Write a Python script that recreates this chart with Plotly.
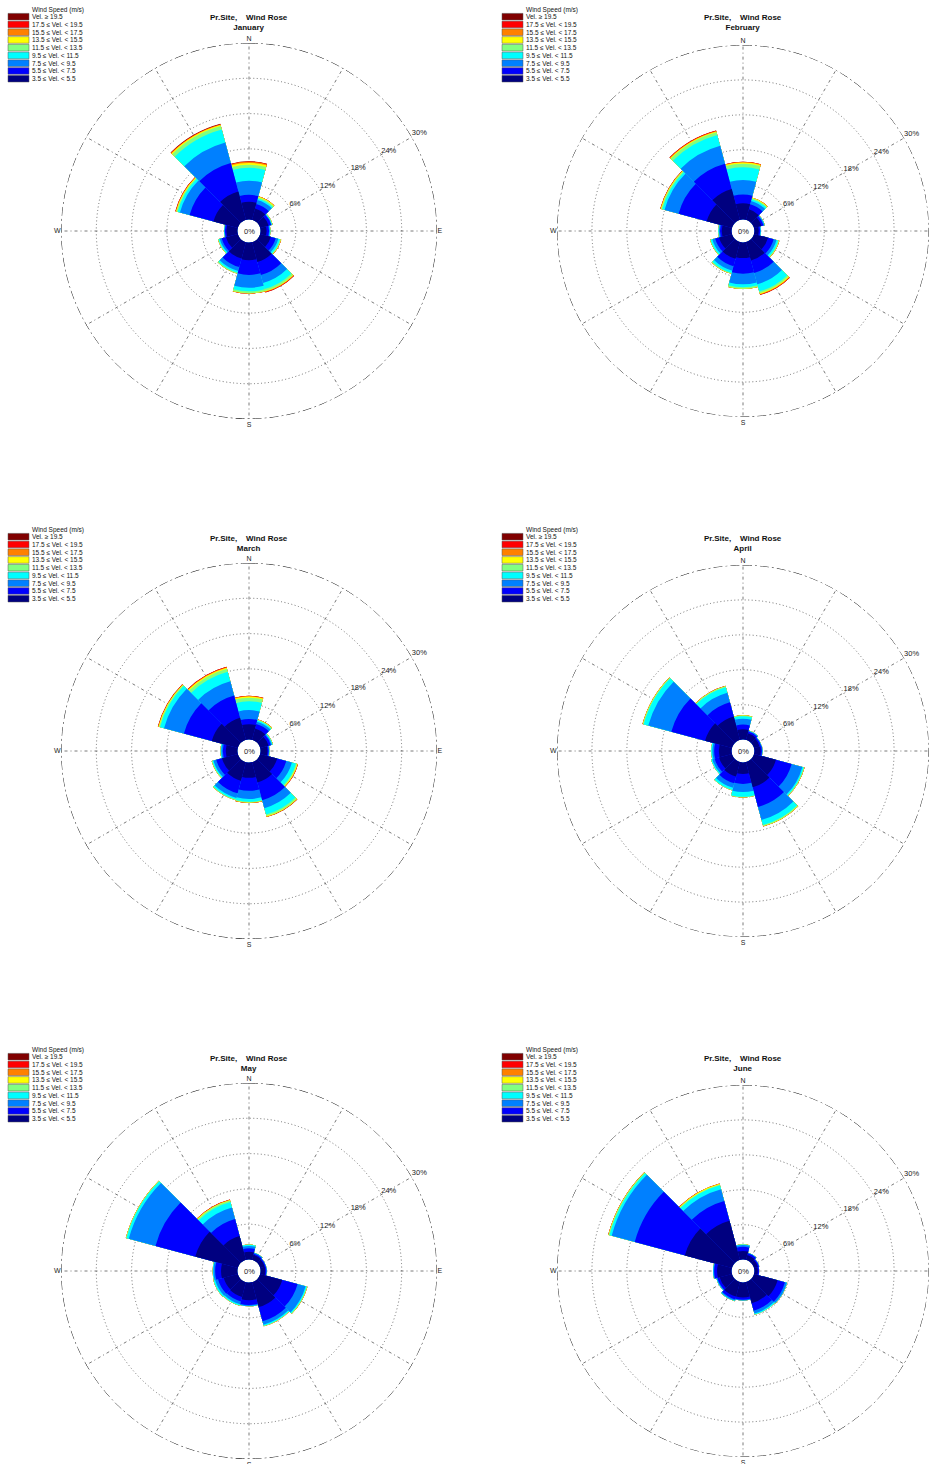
import plotly.graph_objects as go

W, H = 929, 1464

# ---------------- data ----------------
# Direction sectors (degrees, clockwise from North)
directions = [0, 30, 60, 90, 120, 150, 180, 210, 240, 270, 300, 330]
months = ["January", "February", "March", "April", "May", "June"]
cardinal_text = ["N", "", "", "E", "", "", "S", "", "", "W", "", ""]

# Speed classes, from lowest to highest
class_labels = ["3.5 \u2264 Vel. < 5.5", "5.5 \u2264 Vel. < 7.5", "7.5 \u2264 Vel. < 9.5",
                "9.5 \u2264 Vel. < 11.5", "11.5 \u2264 Vel. < 13.5", "13.5 \u2264 Vel. < 15.5",
                "15.5 \u2264 Vel. < 17.5", "17.5 \u2264 Vel. < 19.5", "Vel. \u2265 19.5"]
class_colors = ["#000080", "#0000FF", "#0080FF", "#00FFFF", "#80FF80",
                "#FFFF00", "#FF8000", "#FF0000", "#800000"]
radial_ticks = [6, 12, 18, 24, 30]
radial_text = ["6%", "12%", "18%", "24%", "30%"]
RADIAL_LABEL_BEARING = 60

# Cumulative frequency (%) per direction, up to and including each speed class
jan = [
    [3.0, 2.0, 1.5, 1.05, 1.9, 3.5, 3.0, 2.9, 2.1, 1.9, 4.3, 5.0],
    [4.2, 2.8, 1.95, 1.45, 2.75, 5.8, 5.5, 4.4, 2.85, 2.15, 8.5, 10.0],
    [6.6, 3.5, 2.05, 1.6, 3.2, 7.2, 7.7, 5.1, 3.2, 2.25, 10.2, 13.6],
    [8.8, 3.75, 2.15, 1.7, 3.5, 8.25, 8.3, 5.4, 3.4, 2.3, 10.6, 15.9],
    [9.3, 4.0, 2.2, 1.72, 3.65, 8.6, 8.6, 5.55, 3.5, 2.32, 10.8, 16.5],
    [9.6, 4.1, 2.22, 1.72, 3.7, 8.7, 8.65, 5.57, 3.52, 2.32, 10.9, 16.7],
    [9.8, 4.15, 2.22, 1.72, 3.72, 8.8, 8.67, 5.57, 3.52, 2.32, 10.95, 16.8],
    [9.85, 4.16, 2.22, 1.72, 3.72, 8.85, 8.67, 5.57, 3.52, 2.32, 11.0, 16.85],
    [9.9, 4.16, 2.22, 1.72, 3.72, 8.87, 8.67, 5.57, 3.52, 2.32, 11.02, 16.9],
]
feb = [
    [2.8, 1.9, 1.35, 0.75, 2.5, 3.3, 2.7, 3.0, 2.3, 1.7, 4.5, 5.5],
    [4.3, 2.8, 1.7, 1.0, 3.5, 5.5, 5.4, 4.3, 3.0, 2.0, 9.5, 10.0],
    [6.8, 3.4, 1.85, 1.1, 4.0, 7.5, 7.2, 5.1, 3.5, 2.2, 12.0, 13.2],
    [9.0, 3.7, 1.9, 1.15, 4.3, 8.8, 7.7, 5.5, 3.8, 2.3, 12.4, 15.1],
    [9.6, 3.9, 1.92, 1.15, 4.45, 9.1, 7.97, 5.65, 3.9, 2.32, 12.6, 15.6],
    [9.8, 4.0, 1.92, 1.15, 4.5, 9.25, 8.0, 5.67, 3.92, 2.32, 12.7, 15.75],
    [9.9, 4.02, 1.92, 1.15, 4.52, 9.35, 8.02, 5.67, 3.92, 2.32, 12.75, 15.85],
    [9.92, 4.02, 1.92, 1.15, 4.52, 9.4, 8.02, 5.67, 3.92, 2.32, 12.77, 15.9],
    [9.93, 4.02, 1.92, 1.15, 4.52, 9.42, 8.02, 5.67, 3.92, 2.32, 12.78, 15.92],
]
mar = [
    [2.6, 2.0, 1.5, 1.2, 3.0, 3.6, 2.6, 3.3, 2.8, 2.0, 4.6, 3.9],
    [3.5, 2.8, 1.9, 1.4, 4.6, 6.7, 4.8, 5.5, 3.8, 2.5, 9.5, 7.8],
    [5.0, 3.2, 2.1, 1.5, 5.6, 8.1, 6.2, 6.3, 4.3, 2.75, 13.0, 10.3],
    [6.5, 3.4, 2.2, 1.55, 6.3, 9.2, 6.65, 6.6, 4.5, 2.85, 13.7, 12.0],
    [7.1, 3.55, 2.25, 1.57, 6.5, 9.5, 6.8, 6.7, 4.6, 2.9, 13.9, 12.5],
    [7.3, 3.6, 2.27, 1.57, 6.6, 9.6, 6.85, 6.72, 4.62, 2.9, 14.0, 12.7],
    [7.4, 3.62, 2.27, 1.57, 6.65, 9.65, 6.87, 6.72, 4.62, 2.9, 14.05, 12.8],
    [7.42, 3.62, 2.27, 1.57, 6.67, 9.67, 6.87, 6.72, 4.62, 2.9, 14.08, 12.85],
    [7.43, 3.62, 2.27, 1.57, 6.67, 9.68, 6.87, 6.72, 4.62, 2.9, 14.1, 12.88],
]
apr = [
    [1.8, 1.2, 1.0, 1.1, 3.9, 4.5, 2.0, 2.6, 2.3, 2.2, 4.8, 4.2],
    [2.6, 1.5, 1.25, 1.3, 6.7, 8.0, 3.7, 3.8, 3.1, 3.0, 10.8, 6.7],
    [3.6, 1.65, 1.35, 1.4, 8.6, 10.3, 5.1, 4.6, 3.5, 3.3, 14.9, 8.4],
    [4.0, 1.7, 1.38, 1.42, 8.85, 11.2, 5.9, 5.0, 3.7, 3.5, 15.7, 9.4],
    [4.15, 1.72, 1.38, 1.42, 8.95, 11.4, 6.0, 5.05, 3.72, 3.52, 15.85, 9.55],
    [4.17, 1.72, 1.38, 1.42, 8.98, 11.45, 6.02, 5.05, 3.72, 3.52, 15.9, 9.6],
    [4.17, 1.72, 1.38, 1.42, 9.0, 11.47, 6.02, 5.05, 3.72, 3.52, 15.92, 9.62],
    [4.17, 1.72, 1.38, 1.42, 9.0, 11.47, 6.02, 5.05, 3.72, 3.52, 15.93, 9.63],
    [4.17, 1.72, 1.38, 1.42, 9.0, 11.47, 6.02, 5.05, 3.72, 3.52, 15.93, 9.63],
]
may = [
    [1.3, 0.9, 0.8, 0.8, 3.9, 4.4, 3.0, 2.6, 2.5, 2.8, 7.5, 4.2],
    [1.9, 1.1, 1.0, 1.0, 6.6, 6.9, 3.8, 3.4, 3.5, 3.8, 14.5, 7.2],
    [2.3, 1.25, 1.05, 1.05, 8.0, 7.5, 4.0, 3.9, 4.0, 4.1, 19.2, 9.2],
    [2.5, 1.3, 1.07, 1.07, 8.2, 7.7, 4.05, 4.1, 4.25, 4.2, 19.6, 10.2],
    [2.55, 1.32, 1.07, 1.07, 8.3, 7.75, 4.05, 4.15, 4.3, 4.22, 19.7, 10.45],
    [2.55, 1.32, 1.07, 1.07, 8.32, 7.77, 4.05, 4.15, 4.3, 4.22, 19.72, 10.55],
    [2.55, 1.32, 1.07, 1.07, 8.33, 7.77, 4.05, 4.15, 4.3, 4.22, 19.73, 10.6],
    [2.55, 1.32, 1.07, 1.07, 8.33, 7.77, 4.05, 4.15, 4.3, 4.22, 19.73, 10.62],
    [2.55, 1.32, 1.07, 1.07, 8.33, 7.77, 4.05, 4.15, 4.3, 4.22, 19.73, 10.63],
]
jun = [
    [1.5, 0.9, 0.7, 0.6, 4.2, 3.8, 2.6, 2.6, 2.2, 2.5, 8.4, 7.0],
    [2.2, 1.2, 0.9, 0.8, 5.5, 5.1, 3.0, 3.1, 2.6, 3.0, 17.3, 10.5],
    [2.5, 1.3, 0.95, 0.82, 5.85, 5.6, 3.1, 3.3, 2.75, 3.15, 21.4, 12.6],
    [2.6, 1.32, 0.96, 0.82, 5.9, 5.8, 3.12, 3.4, 2.8, 3.2, 21.8, 13.3],
    [2.62, 1.32, 0.96, 0.82, 5.92, 5.82, 3.12, 3.42, 2.8, 3.2, 21.95, 13.45],
    [2.62, 1.32, 0.96, 0.82, 5.92, 5.82, 3.12, 3.42, 2.8, 3.2, 22.0, 13.55],
    [2.62, 1.32, 0.96, 0.82, 5.92, 5.82, 3.12, 3.42, 2.8, 3.2, 22.02, 13.6],
    [2.62, 1.32, 0.96, 0.82, 5.92, 5.82, 3.12, 3.42, 2.8, 3.2, 22.03, 13.62],
    [2.62, 1.32, 0.96, 0.82, 5.92, 5.82, 3.12, 3.42, 2.8, 3.2, 22.03, 13.63],
]
month_data = [jan, feb, mar, apr, may, jun]

# ---------------- layout geometry (pixels) ----------------
col_cx = [249, 743]
row_cy = [231, 751, 1271]
RADIUS = 188
HOLE_PX = 11.5
R_MAX = 30
FONT = "Liberation Sans, Arial, sans-serif"


def fx(x):
    return min(max(x / W, 0.0), 1.0)


def fy(y):
    return min(max(1 - y / H, 0.0), 1.0)


fig = go.Figure()
layout_polars = {}
annotations = []
shapes = []

for i, month in enumerate(months):
    row, col = divmod(i, 2)
    cx, cy = col_cx[col], row_cy[row]
    dy = cy - row_cy[0]
    name = "polar" if i == 0 else f"polar{i + 1}"
    data = month_data[i]

    # cumulative sectors drawn from the outermost class inwards
    for k in range(len(class_labels) - 1, -1, -1):
        fig.add_trace(go.Barpolar(
            r=data[k], theta=directions, subplot=name,
            marker=dict(color=class_colors[k], line=dict(width=0)),
            name=class_labels[k], showlegend=False, hoverinfo="skip"))

    # outer frame circle at the axis maximum
    frame_theta = list(range(0, 361, 2))
    fig.add_trace(go.Scatterpolar(
        r=[R_MAX] * len(frame_theta), theta=frame_theta, subplot=name, mode="lines",
        line=dict(color="#222222", width=1, dash="9px,3px,2px,3px"),
        showlegend=False, hoverinfo="skip"))

    # radial tick labels placed along the NE spoke
    fig.add_trace(go.Scatterpolar(
        r=radial_ticks, theta=[RADIAL_LABEL_BEARING] * len(radial_ticks), subplot=name,
        mode="text", text=radial_text, textposition="top right", cliponaxis=False,
        textfont=dict(family=FONT, size=7.5, color="#222"),
        showlegend=False, hoverinfo="skip"))

    # keep the circle centred on cx even if the panel touches the page edge
    half = min(RADIUS, cx, W - cx)
    layout_polars[name] = dict(
        domain=dict(x=[fx(cx - half), fx(cx + half)], y=[fy(cy + RADIUS), fy(cy - RADIUS)]),
        hole=HOLE_PX / RADIUS,
        bgcolor="white",
        barmode="overlay",
        bargap=0,
        radialaxis=dict(range=[0, R_MAX], tickvals=radial_ticks, showticklabels=False,
                        angle=30, showline=False, ticks="",
                        gridcolor="#6f6f6f", griddash="1px,2.5px", gridwidth=0.9,
                        layer="above traces"),
        angularaxis=dict(direction="clockwise", rotation=90,
                         tickvals=directions, ticktext=cardinal_text,
                         showline=False, ticks="",
                         gridcolor="#7a7a7a", griddash="3px,3px,1px,3px", gridwidth=0.8,
                         layer="above traces",
                         tickfont=dict(family=FONT, size=7, color="#222")),
    )

    # title
    annotations.append(dict(
        x=fx(cx), y=fy(23 + dy), xref="paper", yref="paper", xanchor="center", yanchor="middle",
        text=f"<b>Pr.Site,&nbsp;&nbsp;&nbsp;&nbsp;Wind Rose</b><br><b>{month}</b>",
        showarrow=False, font=dict(family=FONT, size=8, color="#111")))
    # centre label
    annotations.append(dict(
        x=fx(cx), y=fy(cy), xref="paper", yref="paper", xanchor="center", yanchor="middle",
        text="0%", showarrow=False, font=dict(family=FONT, size=7.5, color="#222")))

    # legend (manual, compact)
    lx = 8 + (cx - 249)
    ly0 = 10 + dy
    annotations.append(dict(
        x=fx(lx + 22), y=fy(ly0), xref="paper", yref="paper", xanchor="left", yanchor="middle",
        text="Wind Speed (m/s)", showarrow=False, font=dict(family=FONT, size=6.5, color="#111")))
    for j, k in enumerate(range(len(class_labels) - 1, -1, -1)):
        yc = ly0 + 6.7 + 7.75 * j
        shapes.append(dict(type="rect", xref="paper", yref="paper",
                           x0=fx(lx), x1=fx(lx + 21), y0=fy(yc - 3.3), y1=fy(yc + 3.3),
                           fillcolor=class_colors[k], line=dict(width=0.5, color="#555")))
        annotations.append(dict(
            x=fx(lx + 22), y=fy(yc), xref="paper", yref="paper", xanchor="left", yanchor="middle",
            text=class_labels[k], showarrow=False, font=dict(family=FONT, size=6.5, color="#111")))

fig.update_layout(
    width=W, height=H, margin=dict(l=0, r=0, t=0, b=0),
    paper_bgcolor="white", plot_bgcolor="white", template="none",
    showlegend=False, annotations=annotations, shapes=shapes,
    **layout_polars)

fig.write_html("out.html")
